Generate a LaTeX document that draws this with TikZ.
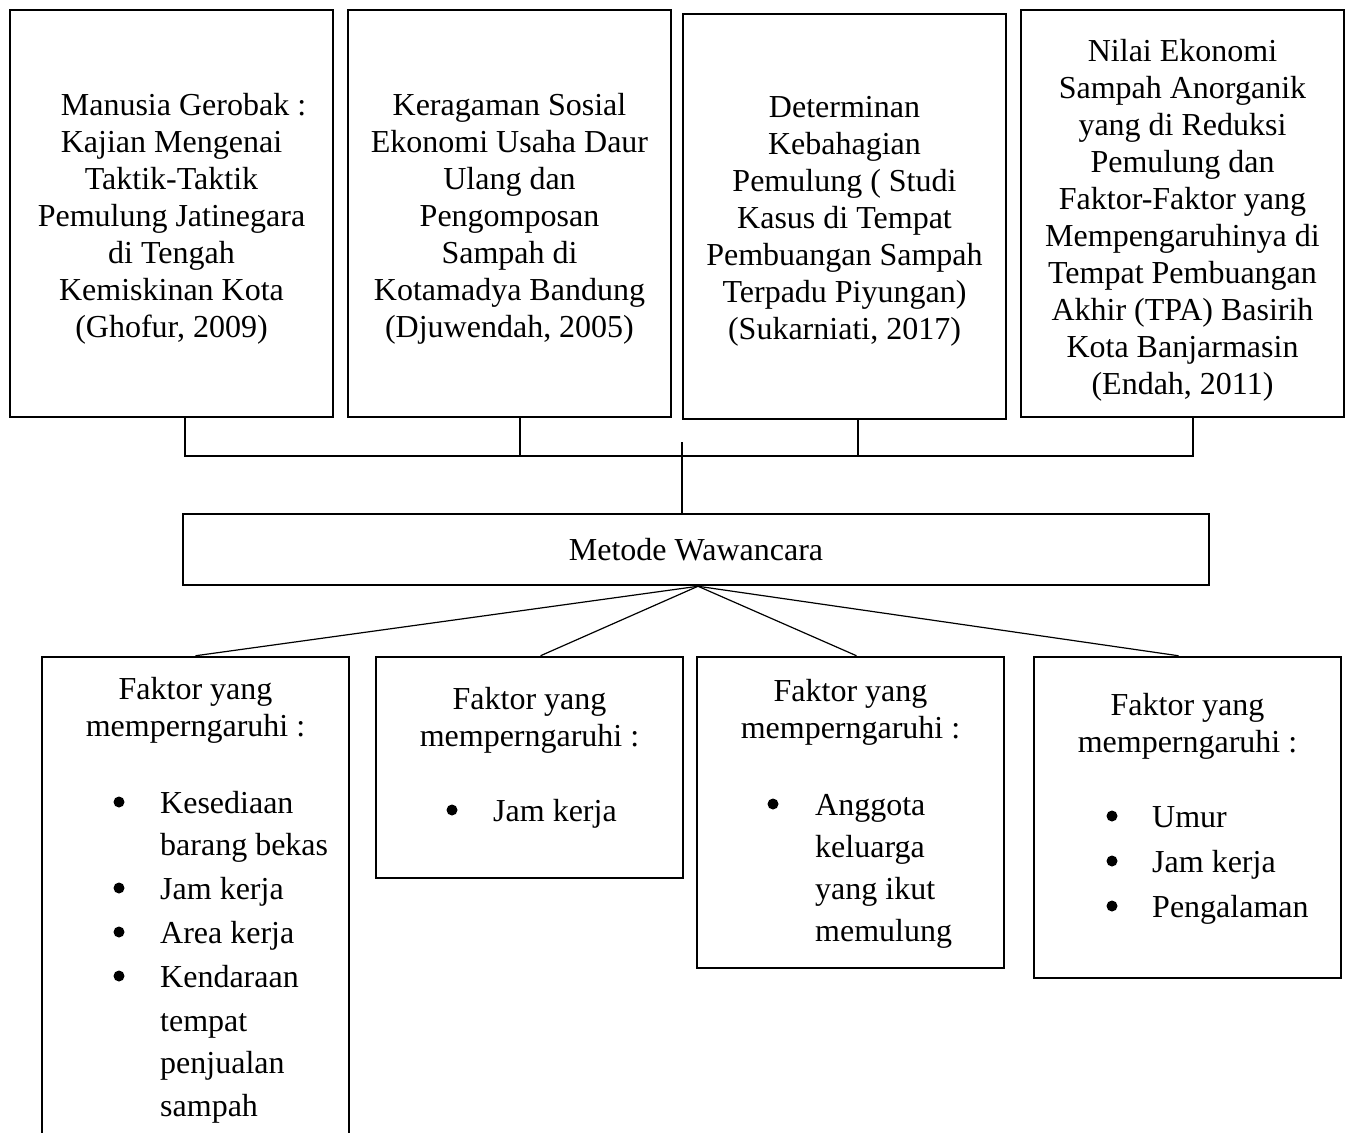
\documentclass[tikz,border=0pt]{standalone}
\usepackage{fontspec}
\setmainfont{Liberation Serif}
\usetikzlibrary{calc}
\newcommand\dgfont{\fontsize{32}{37}\selectfont}
\begin{document}
\begin{tikzpicture}[x=1pt,y=-1pt,
  topbox/.style={draw, line width=2.5pt, inner sep=0pt, minimum width=323pt, minimum height=407pt},
  toptext/.style={align=center, inner sep=0pt, font=\dgfont},
  midbox/.style={draw, line width=2.5pt, inner sep=0pt, font=\dgfont, minimum width=1026pt, minimum height=71pt},
  botbox/.style={draw, line width=2.5pt, inner sep=0pt, minimum width=307pt},
  head/.style={align=center, inner sep=0pt, font=\dgfont},
  item/.style={anchor=base west, inner sep=0pt, font=\dgfont},
  conn/.style={line width=1.2pt},
  dot/.style={circle, fill, inner sep=0pt, minimum size=11pt}
]
\useasboundingbox (0,0) rectangle (1350,1133);
\path[clip] (0,0) rectangle (1350,1133);

% top boxes
\node[topbox] (t1) at (171.5,213.5) {};
\node[topbox] (t2) at (509.5,213.5) {};
\node[topbox, minimum height=405pt] (t3) at (844.5,216.5) {};
\node[topbox] (t4) at (1182.5,213.5) {};
\node[toptext] (t1x) at ($(t1.center)+(0,5)$) {\hspace*{24pt}Manusia Gerobak :\\Kajian Mengenai\\Taktik-Taktik\\Pemulung Jatinegara\\di Tengah\\Kemiskinan Kota\\(Ghofur, 2009)};
\node[toptext] (t2x) at ($(t2.center)+(0,5)$) {Keragaman Sosial\\Ekonomi Usaha Daur\\Ulang dan\\Pengomposan\\Sampah di\\Kotamadya Bandung\\(Djuwendah, 2005)};
\node[toptext] (t3x) at ($(t3.center)+(0,5)$) {Determinan\\Kebahagian\\Pemulung ( Studi\\Kasus di Tempat\\Pembuangan Sampah\\Terpadu Piyungan)\\(Sukarniati, 2017)};
\node[toptext] (t4x) at ($(t4.center)+(0,7)$) {Nilai Ekonomi\\Sampah Anorganik\\yang di Reduksi\\Pemulung dan\\Faktor-Faktor yang\\Mempengaruhinya di\\Tempat Pembuangan\\Akhir (TPA) Basirih\\Kota Banjarmasin\\(Endah, 2011)};

% middle box
\node[midbox] (m) at (696,549.5) {\raisebox{-2pt}{Metode Wawancara}};

% bottom boxes
\node[botbox, minimum height=503pt] (b1) at (195.5,908.5) {};
\node[botbox, minimum height=221pt] (b2) at (529.5,767.5) {};
\node[botbox, minimum height=311pt] (b3) at (850.5,812.5) {};
\node[botbox, minimum height=321pt] (b4) at (1187.5,817.5) {};

% headers
\node[head] (h1) at (195.5,710) {Faktor yang\\memperngaruhi :};
\node[head] (h2) at (529.5,720) {Faktor yang\\memperngaruhi :};
\node[head] (h3) at (850.5,712) {Faktor yang\\memperngaruhi :};
\node[head] (h4) at (1187.5,726) {Faktor yang\\memperngaruhi :};

% list box 1
\node[dot] (d11) at (119,802) {};
\node[item] (i11) at (160,813) {Kesediaan};
\node[item] (i12) at (160,855) {barang bekas};
\node[dot] (d12) at (119,888) {};
\node[item] (i13) at (160,899) {Jam kerja};
\node[dot] (d13) at (119,932) {};
\node[item] (i14) at (160,943) {Area kerja};
\node[dot] (d14) at (119,976) {};
\node[item] (i15) at (160,987) {Kendaraan};
\node[item] (i16) at (160,1031) {tempat};
\node[item] (i17) at (160,1073) {penjualan};
\node[item] (i18) at (160,1116) {sampah};

% list box 2
\node[dot] (d21) at (452,810) {};
\node[item] (i21) at (493,821) {Jam kerja};

% list box 3
\node[dot] (d31) at (773,804) {};
\node[item] (i31) at (815,815) {Anggota};
\node[item] (i32) at (815,857) {keluarga};
\node[item] (i33) at (815,899) {yang ikut};
\node[item] (i34) at (815,941) {memulung};

% list box 4
\node[dot] (d41) at (1112,816) {};
\node[item] (i41) at (1152,827) {Umur};
\node[dot] (d42) at (1112,861) {};
\node[item] (i42) at (1152,872) {Jam kerja};
\node[dot] (d43) at (1112,906) {};
\node[item] (i43) at (1152,917) {Pengalaman};

% top connectors
\coordinate (j1) at (185,456);
\coordinate (j2) at (520,456);
\coordinate (j3) at (858,456);
\coordinate (j4) at (1193,456);
\draw[conn] (t1.south -| j1) -- (j1) -- (j4) -- (t4.south -| j4);
\draw[conn] (t2.south -| j2) -- (j2);
\draw[conn] (t3.south -| j3) -- (j3);
\coordinate (c0) at (682,442);
\draw[conn] (c0) -- (c0 |- m.north);

% lower connectors
\coordinate (apex) at ($(m.south)+(2,0)$);
\coordinate (e1) at (b1.north);
\coordinate (e2) at ($(b2.north)+(11,0)$);
\coordinate (e3) at ($(b3.north)+(6,0)$);
\coordinate (e4) at ($(b4.north)+(-9,0)$);
\draw[conn] (apex) -- (e1);
\draw[conn] (apex) -- (e2);
\draw[conn] (apex) -- (e3);
\draw[conn] (apex) -- (e4);
\end{tikzpicture}
\end{document}
